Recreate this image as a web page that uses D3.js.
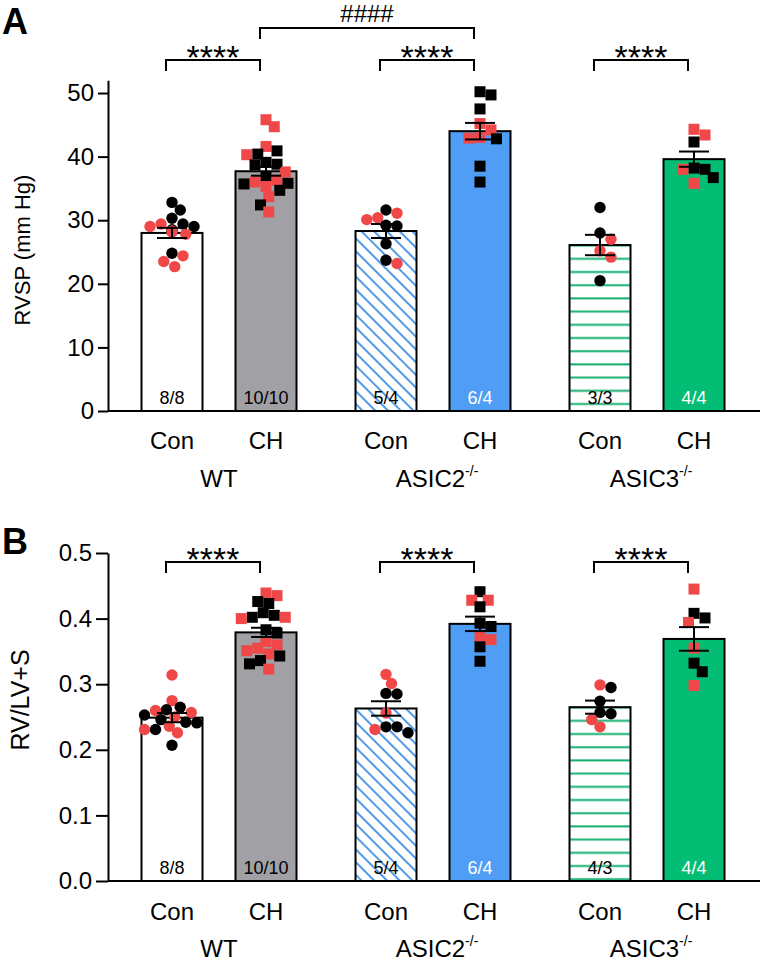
<!DOCTYPE html>
<html>
<head>
<meta charset="utf-8">
<script src="https://cdn.jsdelivr.net/npm/d3@7"></script>
<style>
  html, body { margin: 0; padding: 0; background: #fff; }
  svg { display: block; font-family: "Liberation Sans", Arial, Helvetica, sans-serif; }
</style>
</head>
<body>
<svg id="chart" width="760" height="968"></svg>
<script>
// ---------------- DATA ----------------
const groups = ["WT", "ASIC2", "ASIC3"];
const groupSup = ["", "-/-", "-/-"];
const conditions = ["Con", "CH"];

// Panel A : RVSP (mm Hg)
const rvspMean = [28.0, 37.7, 28.3, 44.0, 26.1, 39.6];
const rvspSem  = [0.8, 0.7, 1.1, 1.3, 1.6, 1.2];
const rvspN    = ["8/8", "10/10", "5/4", "6/4", "3/3", "4/4"];
const rvspBlack = [
  [32.8, 31.6, 30.3, 29.4, 29.0, 28.5, 28.2, 24.8],
  [40.4, 40.9, 39.1, 38.7, 38.8, 36.8, 35.7, 35.8, 34.7, 32.4],
  [31.6, 29.2, 29.1, 26.3, 23.7],
  [50.2, 49.7, 47.5, 42.8, 38.5, 36.0],
  [32.0, 28.0, 20.5],
  [42.3, 38.2, 38.0, 36.7]
];
const rvspRed = [
  [29.4, 29.0, 28.3, 28.2, 27.8, 24.4, 23.5, 22.7],
  [45.8, 44.7, 41.6, 40.3, 37.6, 36.3, 35.3, 36.0, 33.7, 31.3],
  [31.1, 30.4, 30.1, 23.2],
  [45.2, 44.2, 43.0, 42.9],
  [27.0, 25.2, 24.2],
  [44.3, 43.4, 38.0, 35.8]
];
const rvspTicks = [0, 10, 20, 30, 40, 50];

// Panel B : RV/LV+S
const fultonMean = [0.249, 0.379, 0.263, 0.392, 0.265, 0.369];
const fultonSem  = [0.007, 0.007, 0.011, 0.011, 0.010, 0.018];
const fultonN    = ["8/8", "10/10", "5/4", "6/4", "4/3", "4/4"];
const fultonBlack = [
  [0.265, 0.261, 0.253, 0.246, 0.242, 0.241, 0.231, 0.207],
  [0.426, 0.423, 0.409, 0.405, 0.402, 0.383, 0.378, 0.343, 0.336, 0.331],
  [0.286, 0.285, 0.235, 0.235, 0.226],
  [0.441, 0.418, 0.393, 0.388, 0.357, 0.335],
  [0.295, 0.274, 0.257, 0.255],
  [0.408, 0.401, 0.332, 0.319]
];
const fultonRed = [
  [0.314, 0.275, 0.260, 0.257, 0.250, 0.236, 0.231, 0.226],
  [0.439, 0.435, 0.402, 0.400, 0.365, 0.360, 0.355, 0.351, 0.346, 0.323],
  [0.315, 0.301, 0.256, 0.231],
  [0.428, 0.428, 0.373, 0.368],
  [0.299, 0.246, 0.235],
  [0.445, 0.394, 0.355, 0.298]
];
const fultonTicks = [0, 0.1, 0.2, 0.3, 0.4, 0.5];

// significance annotations: [fromBarIndex, toBarIndex, label, level]
const sigA = [[0, 1, "****", 0], [2, 3, "****", 0], [4, 5, "****", 0], [1, 3, "####", 1]];
const sigB = [[0, 1, "****", 0], [2, 3, "****", 0], [4, 5, "****", 0]];

// ---------------- STYLE ----------------
const fills = ["#ffffff", "#a1a1a5", "url(#hatchBlue)", "#4f9df5", "url(#hatchGreen)", "#04bd74"];
const nColors = ["#000", "#000", "#000", "#fff", "#000", "#fff"];
const RED = "#f04848";

const svg = d3.select("#chart");
const defs = svg.append("defs");

// diagonal blue hatch
defs.append("pattern")
  .attr("id", "hatchBlue").attr("patternUnits", "userSpaceOnUse")
  .attr("width", 9).attr("height", 9)
  .attr("patternTransform", "rotate(-45)")
  .call(p => {
    p.append("rect").attr("width", 9).attr("height", 9).attr("fill", "#fff");
    p.append("line").attr("x1", 2).attr("x2", 2).attr("y1", 0).attr("y2", 9)
      .attr("stroke", "#3f8fe6").attr("stroke-width", 1.8);
  });
// horizontal green hatch
defs.append("pattern")
  .attr("id", "hatchGreen").attr("patternUnits", "userSpaceOnUse")
  .attr("width", 20).attr("height", 13.2).attr("y", 2)
  .call(p => {
    p.append("rect").attr("width", 20).attr("height", 13.2).attr("fill", "#fff");
    p.append("line").attr("x1", 0).attr("x2", 20).attr("y1", 6).attr("y2", 6)
      .attr("stroke", "#14b070").attr("stroke-width", 2);
  });

// x scales (shared)
const xGroup = d3.scalePoint().domain(groups).range([219, 647]);
const xCond = d3.scalePoint().domain(conditions).range([-47, 47]);
const barW = 61;
const barCenter = i => xGroup(groups[Math.floor(i / 2)]) + xCond(conditions[i % 2]);

function swarm(values, y, cx, r, maxOff) {
  const sorted = values.slice().sort((a, b) => b.v - a.v);
  const placed = [];
  for (const p of sorted) {
    const py = y(p.v);
    let px = cx;
    for (let k = 0; k < 60; k++) {
      const off = (k === 0 ? 0 : (k % 2 ? 1 : -1) * Math.ceil(k / 2)) * r * 0.5;
      if (Math.abs(off) > maxOff) continue;
      const cand = cx + off;
      if (placed.every(q => Math.hypot(q.x - cand, q.y - py) >= 2 * r * 0.95)) { px = cand; break; }
    }
    placed.push({ ...p, x: px, y: py });
  }
  return placed;
}

function drawPanel(cfg) {
  const g = svg.append("g");
  const y = d3.scaleLinear().domain(cfg.domain).range(cfg.range);
  const base = y(0);

  // y axis
  const ax = g.append("g").attr("transform", `translate(108,0)`)
    .call(d3.axisLeft(y).tickValues(cfg.ticks).tickSize(cfg.tickLen).tickSizeOuter(0).tickFormat(cfg.fmt));
  ax.select(".domain").attr("stroke", "#000").attr("stroke-width", 2);
  ax.selectAll(".tick line").attr("stroke", "#000").attr("stroke-width", 2);
  ax.selectAll(".tick text").attr("font-size", 24).attr("fill", "#000")
    .attr("font-family", "Liberation Sans, Arial, sans-serif").attr("x", -cfg.tickLen - 4);

  // y title
  g.append("text").attr("transform", `translate(${cfg.titleX},${cfg.titleY}) rotate(-90)`)
    .attr("text-anchor", "middle").attr("font-size", cfg.titleSize).text(cfg.title);

  // panel letter
  g.append("text").attr("x", 2).attr("y", cfg.letterY).attr("font-size", 36)
    .attr("font-weight", "bold").text(cfg.letter);

  // bars
  g.selectAll("rect.bar").data(cfg.mean).join("rect").attr("class", "bar")
    .attr("x", (d, i) => barCenter(i) - barW / 2).attr("width", barW)
    .attr("y", d => y(d)).attr("height", d => base - y(d))
    .attr("fill", (d, i) => fills[i]).attr("stroke", "#000").attr("stroke-width", 2);

  // baseline
  g.append("line").attr("x1", 108).attr("x2", 760).attr("y1", base).attr("y2", base)
    .attr("stroke", "#000").attr("stroke-width", 2);

  // n labels
  g.selectAll("text.n").data(cfg.n).join("text").attr("class", "n")
    .attr("x", (d, i) => barCenter(i)).attr("y", base - 7)
    .attr("text-anchor", "middle").attr("font-size", 18)
    .attr("fill", (d, i) => nColors[i]).text(d => d);

  // points
  cfg.mean.forEach((m, i) => {
    const pts = cfg.black[i].map(v => ({ v, c: "#000" }))
      .concat(cfg.red[i].map(v => ({ v, c: RED })));
    const placed = swarm(pts, y, barCenter(i), 5.5, 30);
    const isSq = i % 2 === 1;
    if (isSq) {
      g.selectAll(null).data(placed).join("rect")
        .attr("x", d => d.x - 5.5).attr("y", d => d.y - 5.5)
        .attr("width", 11).attr("height", 11).attr("fill", d => d.c);
    } else {
      g.selectAll(null).data(placed).join("circle")
        .attr("cx", d => d.x).attr("cy", d => d.y).attr("r", 5.7).attr("fill", d => d.c);
    }
  });

  // error bars
  cfg.mean.forEach((m, i) => {
    const cx = barCenter(i), s = cfg.sem[i];
    const eg = g.append("g").attr("stroke", "#000").attr("stroke-width", 2);
    eg.append("line").attr("x1", cx).attr("x2", cx).attr("y1", y(m - s)).attr("y2", y(m + s));
    eg.append("line").attr("x1", cx - 15).attr("x2", cx + 15).attr("y1", y(m - s)).attr("y2", y(m - s));
    eg.append("line").attr("x1", cx - 15).attr("x2", cx + 15).attr("y1", y(m + s)).attr("y2", y(m + s));
  });

  // x labels
  for (let i = 0; i < 6; i++) {
    g.append("text").attr("x", barCenter(i)).attr("y", cfg.condY)
      .attr("text-anchor", "middle").attr("font-size", 24).text(conditions[i % 2]);
  }
  groups.forEach((gr, k) => {
    const t = g.append("text").attr("x", xGroup(gr) + (groupSup[k] ? 4 : 0)).attr("y", cfg.groupY)
      .attr("text-anchor", "middle").attr("font-size", 24);
    t.append("tspan").text(gr);
    if (groupSup[k]) t.append("tspan").attr("font-size", 14).attr("dy", -11).text(groupSup[k]);
  });

  // significance brackets
  cfg.sig.forEach(([a, b, label, lvl]) => {
    const x1 = barCenter(a) - 6, x2 = barCenter(b) - 6;
    const top = cfg.sigY - lvl * 32;
    g.append("path")
      .attr("d", `M${x1},${top + 11}V${top}H${x2}V${top + 11}`)
      .attr("fill", "none").attr("stroke", "#000").attr("stroke-width", 2);
    const isHash = label[0] === "#";
    g.append("text").attr("x", (x1 + x2) / 2).attr("y", isHash ? top - 6 : top + 9)
      .attr("text-anchor", "middle")
      .attr("font-size", isHash ? 24 : 34)
      .attr("letter-spacing", isHash ? 0 : 0)
      .text(label);
  });
}

drawPanel({
  domain: [0, 52], range: [411, 80.3], ticks: rvspTicks, fmt: d3.format("d"), tickLen: 10,
  mean: rvspMean, sem: rvspSem, n: rvspN, black: rvspBlack, red: rvspRed,
  title: "RVSP (mm Hg)", titleX: 30, titleY: 250, titleSize: 22,
  letter: "A", letterY: 34, condY: 449, groupY: 487, sig: sigA, sigY: 60
});

drawPanel({
  domain: [0, 0.5], range: [881, 553], ticks: fultonTicks, fmt: d3.format(".1f"), tickLen: 12,
  mean: fultonMean, sem: fultonSem, n: fultonN, black: fultonBlack, red: fultonRed,
  title: "RV/LV+S", titleX: 29, titleY: 700, titleSize: 25,
  letter: "B", letterY: 554, condY: 920, groupY: 957, sig: sigB, sigY: 562
});
</script>
</body>
</html>
